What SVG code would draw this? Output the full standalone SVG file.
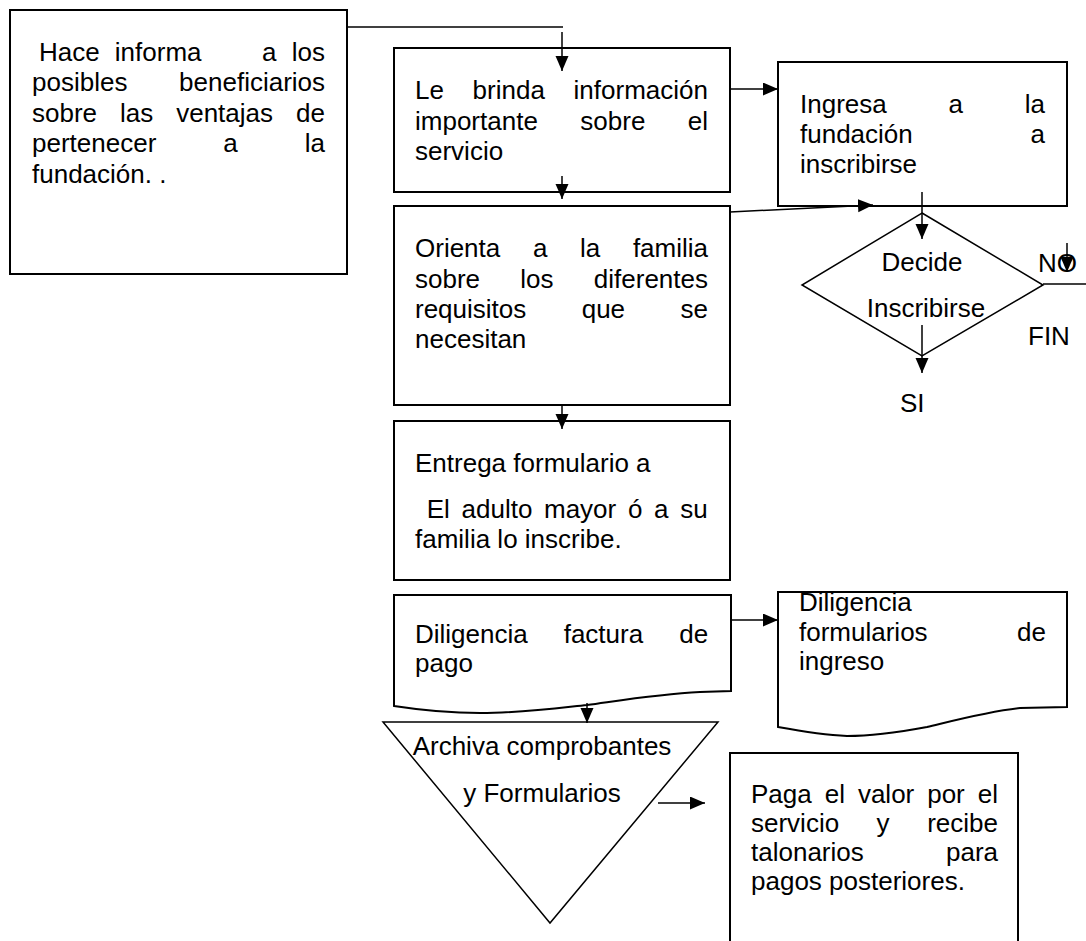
<svg xmlns="http://www.w3.org/2000/svg" width="1086" height="941" viewBox="0 0 1086 941">
<style>
  .box { fill: #fff; stroke: #000; stroke-width: 2; }
  .shape { fill: #fff; stroke: #000; stroke-width: 1.5; }
  .ln { fill: none; stroke: #000; stroke-width: 1.5; }
  .arr { fill: none; stroke: #000; stroke-width: 1.5; marker-end: url(#ah); }
  text { font-family: "Liberation Sans", Arial, sans-serif; font-size: 26px; fill: #000; }
  .c { text-anchor: middle; }
</style>
<defs>
  <marker id="ah" markerUnits="userSpaceOnUse" markerWidth="16" markerHeight="14" refX="15" refY="6.5" orient="auto">
    <path d="M0,0 L15,6.5 L0,13 Z" fill="#000"/>
  </marker>
</defs>
<rect width="1086" height="941" fill="#fff"/>

<g id="n-hace">
  <rect class="box" x="10" y="10" width="337" height="264"/>
  <text y="61"><tspan x="39">Hace</tspan><tspan x="114.8">informa</tspan><tspan x="262">a</tspan><tspan x="291.8">los</tspan></text>
  <text y="91.4"><tspan x="32">posibles</tspan><tspan x="179.1">beneficiarios</tspan></text>
  <text y="121.8"><tspan x="32">sobre</tspan><tspan x="120">las</tspan><tspan x="176.2">ventajas</tspan><tspan x="296.1">de</tspan></text>
  <text y="152.2"><tspan x="32">pertenecer</tspan><tspan x="223.3">a</tspan><tspan x="304.8">la</tspan></text>
  <text x="32" y="182.6">fundación. .</text>
</g>

<g id="n-brinda">
  <rect class="box" x="394" y="48" width="336" height="144"/>
  <text y="99"><tspan x="415">Le</tspan><tspan x="472.6">brinda</tspan><tspan x="573.6">información</tspan></text>
  <text y="130"><tspan x="415">importante</tspan><tspan x="580.3">sobre</tspan><tspan x="687.8">el</tspan></text>
  <text x="415" y="160">servicio</text>
</g>

<g id="n-ingresa">
  <rect class="box" x="778" y="62" width="289" height="144"/>
  <text y="113"><tspan x="800">Ingresa</tspan><tspan x="948.5">a</tspan><tspan x="1024.8">la</tspan></text>
  <text y="143"><tspan x="800">fundación</tspan><tspan x="1030.5">a</tspan></text>
  <text x="800" y="173">inscribirse</text>
</g>

<g id="n-orienta">
  <rect class="box" x="394" y="206" width="336" height="199"/>
  <text y="257"><tspan x="415">Orienta</tspan><tspan x="533">a</tspan><tspan x="580.1">la</tspan><tspan x="632.9">familia</tspan></text>
  <text y="287.5"><tspan x="415">sobre</tspan><tspan x="520.3">los</tspan><tspan x="593.8">diferentes</tspan></text>
  <text y="318"><tspan x="415">requisitos</tspan><tspan x="581.7">que</tspan><tspan x="680.5">se</tspan></text>
  <text x="415" y="348">necesitan</text>
</g>

<g id="n-decide">
  <polygon class="shape" points="922,213 1043,285 922,356 802,285"/>
  <text class="c" x="922" y="271">Decide</text>
  <text class="c" x="926" y="317">Inscribirse</text>
</g>

<g id="n-si"><text x="900" y="412">SI</text></g>
<g id="n-no"><text x="1038" y="272">NO</text></g>
<g id="n-fin"><text x="1028" y="345">FIN</text></g>

<g id="n-entrega">
  <rect class="box" x="394" y="421" width="336" height="159"/>
  <text x="415" y="472">Entrega formulario a</text>
  <text y="518"><tspan x="426.7">El</tspan><tspan x="461.5">adulto</tspan><tspan x="544">mayor</tspan><tspan x="627.9">ó</tspan><tspan x="654.1">a</tspan><tspan x="680.3">su</tspan></text>
  <text x="415" y="548">familia lo inscribe.</text>
</g>

<g id="n-factura">
  <path class="box" d="M394,595 H731 V691 L700,692 C660,694 630,699 587,705 C550,709 520,713 480,713 C450,713 420,710 394,706 Z"/>
  <text y="643"><tspan x="415">Diligencia</tspan><tspan x="563.7">factura</tspan><tspan x="679.2">de</tspan></text>
  <text x="415" y="672">pago</text>
</g>

<g id="n-formularios">
  <path class="box" d="M778,592 H1067 V707 L1020,708 C990,711 960,719 927,727 C900,732 875,736 847,736 C825,735 800,731 778,727 Z"/>
  <text x="799" y="611">Diligencia</text>
  <text y="641"><tspan x="799">formularios</tspan><tspan x="1017.1">de</tspan></text>
  <text x="799" y="670">ingreso</text>
</g>

<g id="n-archiva">
  <polygon class="shape" points="383,722 718,722 550,923"/>
  <text class="c" x="542" y="755">Archiva comprobantes</text>
  <text class="c" x="542" y="802">y Formularios</text>
</g>

<g id="n-paga">
  <rect class="box" x="730" y="753" width="288" height="210"/>
  <text y="803"><tspan x="751">Paga</tspan><tspan x="824.7">el</tspan><tspan x="857.9">valor</tspan><tspan x="927.2">por</tspan><tspan x="977.8">el</tspan></text>
  <text y="832"><tspan x="751">servicio</tspan><tspan x="876.6">y</tspan><tspan x="927.2">recibe</tspan></text>
  <text y="861"><tspan x="751">talonarios</tspan><tspan x="946">para</tspan></text>
  <text x="751" y="890">pagos posteriores.</text>
</g>

<g id="connectors">
  <line class="ln" x1="347" y1="27" x2="563" y2="27"/>
  <line class="arr" x1="562" y1="32" x2="562" y2="71"/>
  <line class="arr" x1="730" y1="89" x2="778" y2="89"/>
  <line class="arr" x1="562" y1="176" x2="562" y2="199"/>
  <line class="arr" x1="730" y1="212" x2="873" y2="205"/>
  <line class="arr" x1="922" y1="192" x2="922" y2="239"/>
  <line class="arr" x1="922" y1="325" x2="922" y2="373"/>
  <line class="arr" x1="1067" y1="243" x2="1067" y2="272"/>
  <line class="ln" x1="1043" y1="284" x2="1086" y2="284"/>
  <line class="arr" x1="562" y1="405" x2="562" y2="429"/>
  <line class="arr" x1="731" y1="620" x2="778" y2="620"/>
  <line class="arr" x1="587" y1="703" x2="587" y2="723"/>
  <line class="arr" x1="658" y1="803" x2="705" y2="803"/>
</g>
</svg>
